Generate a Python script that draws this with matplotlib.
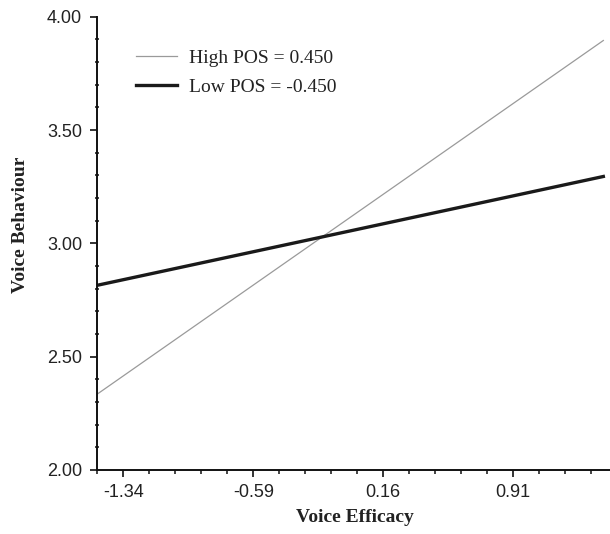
import matplotlib
matplotlib.use("Agg")
import matplotlib.pyplot as plt
from matplotlib.ticker import FixedLocator, MultipleLocator
import numpy as np

# Data
x_ends = [-1.49, 1.43]
high_pos = [2.335, 3.895]
low_pos = [2.815, 3.295]
series_labels = ["High POS = 0.450", "Low POS = -0.450"]
x_major_ticks = [-1.34, -0.59, 0.16, 0.91]
x_tick_labels = ["-1.34", "-0.59", "0.16", "0.91"]
y_major_ticks = [2.0, 2.5, 3.0, 3.5, 4.0]
y_tick_labels = ["2.00", "2.50", "3.00", "3.50", "4.00"]

W, H = 610, 534
fig = plt.figure(figsize=(W / 100, H / 100), dpi=100)
left, right, bottom, top = 97.3, 612, 470, 16.7
ax = fig.add_axes([left / W, (H - bottom) / H, (right - left) / W, (bottom - top) / H])

ax.plot(x_ends, high_pos, color="#9a9a9a", lw=0.9, label=series_labels[0])
ax.plot(x_ends, low_pos, color="#1a1a1a", lw=2.4, label=series_labels[1])

ax.set_xlim(-1.49, -1.49 + (right - left) / 173.3)
ax.set_ylim(2.0, 4.0)

for s in ["top", "right"]:
    ax.spines[s].set_visible(False)
for s in ["left", "bottom"]:
    ax.spines[s].set_linewidth(1.4)
    ax.spines[s].set_color("#111111")

ax.xaxis.set_major_locator(FixedLocator(x_major_ticks))
ax.set_xticklabels(x_tick_labels)
ax.xaxis.set_minor_locator(FixedLocator(np.arange(-1.49, 1.6, 0.15)))
ax.yaxis.set_major_locator(FixedLocator(y_major_ticks))
ax.set_yticklabels(y_tick_labels)
ax.yaxis.set_minor_locator(MultipleLocator(0.1))

tick_font = "Liberation Sans"
ax.tick_params(axis="both", which="major", direction="out", length=5, width=1.2,
               color="#111111", labelsize=13, labelcolor="#222222")
ax.tick_params(axis="x", which="major", pad=5)
ax.tick_params(axis="y", which="major", pad=6)
ax.tick_params(axis="x", which="minor", direction="out", length=3, width=1.1, color="#111111")
ax.tick_params(axis="y", which="minor", direction="inout", length=3.4, width=1.1, color="#111111")
for lab in ax.get_xticklabels() + ax.get_yticklabels():
    lab.set_family(tick_font)

ax.set_xlabel("Voice Efficacy", family="Liberation Serif", fontweight="bold",
              fontsize=14, color="#222222", labelpad=6)
ax.set_ylabel("Voice Behaviour", family="Liberation Serif", fontweight="bold",
              fontsize=14, color="#222222")
ax.yaxis.set_label_coords((29 - left) / (right - left), (bottom - 225) / (bottom - top))

leg = ax.legend(loc="upper left", bbox_to_anchor=(136 / W, (H - 49) / H),
                bbox_transform=fig.transFigure, frameon=False,
                prop={"family": "Liberation Serif", "size": 14},
                handlelength=2.1, handletextpad=0.65, labelspacing=0.6,
                borderpad=0, borderaxespad=0)
for t in leg.get_texts():
    t.set_color("#222222")

fig.savefig("out.png", dpi=100)
